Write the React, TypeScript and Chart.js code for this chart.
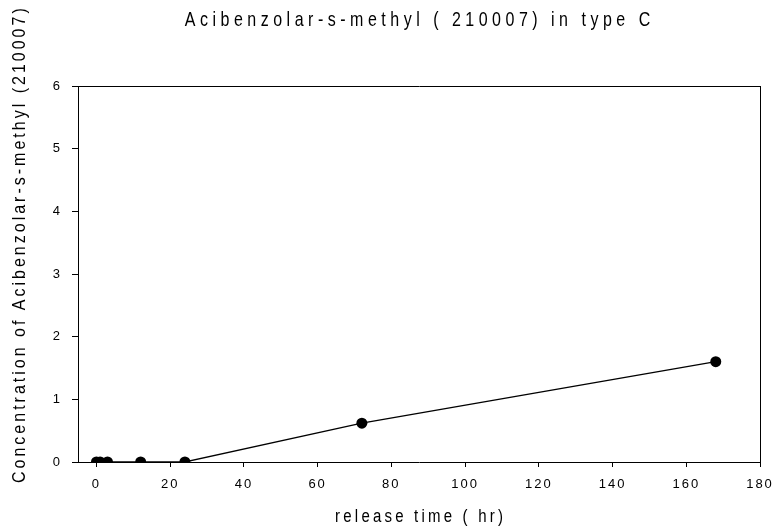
import { useEffect, useRef } from 'react';
import { Chart, registerables } from 'chart.js';

Chart.register(...registerables);

const chartTitle = 'Acibenzolar-s-methyl ( 210007) in type C';
const xTitle = 'release time ( hr)';
const yTitle = 'Concentration of Acibenzolar-s-methyl (210007)';

const releaseTimes = [0, 1, 3, 12, 24, 72, 168];
const concentrations = [0, 0, 0, 0, 0, 0.62, 1.6];

const xTickValues = [0, 20, 40, 60, 80, 100, 120, 140, 160, 180];
const yTickValues = [0, 1, 2, 3, 4, 5, 6];

const FONT = '"Liberation Sans", Arial, sans-serif';

const spacingPlugin = {
  id: 'letterSpacing',
  beforeDraw(chart: any) {
    (chart.ctx as any).letterSpacing = '2px';
  },
};

function drawSpaced(
  ctx: any,
  text: string,
  size: number,
  spacing: number,
  stretch: number,
  x: number,
  y: number,
  rotate: boolean,
  anchor: 'center' | 'start'
) {
  ctx.save();
  ctx.font = `${size}px ${FONT}`;
  ctx.letterSpacing = `${spacing}px`;
  ctx.textAlign = 'left';
  ctx.textBaseline = 'alphabetic';
  const w = ctx.measureText(text).width - spacing;
  ctx.translate(x, y);
  if (rotate) ctx.rotate(-Math.PI / 2);
  ctx.scale(1, stretch);
  ctx.fillText(text, anchor === 'center' ? -w / 2 : 0, 0);
  ctx.restore();
}

const titlesPlugin = {
  id: 'customTitles',
  afterDraw(chart: any) {
    const { ctx, chartArea } = chart;
    const cx = (chartArea.left + chartArea.right) / 2;
    ctx.save();
    ctx.fillStyle = '#000';
    drawSpaced(ctx, chartTitle, 16, 4.5, 1.22, cx - 1.5, chartArea.top - 60.5, false, 'center');
    drawSpaced(ctx, xTitle, 15, 3.2, 1.2, cx, chartArea.bottom + 60, false, 'center');
    drawSpaced(ctx, yTitle, 16, 3.0, 1.12, 25, chartArea.bottom + 21, true, 'start');
    ctx.restore();
  },
};

export default function App() {
  const canvasRef = useRef<HTMLCanvasElement | null>(null);

  useEffect(() => {
    if (!canvasRef.current) return;
    Chart.defaults.font.family = FONT;
    const chart = new Chart(canvasRef.current, {
      type: 'line',
      data: {
        datasets: [
          {
            data: releaseTimes.map((t, i) => ({ x: t, y: concentrations[i] })),
            borderColor: '#000',
            backgroundColor: '#000',
            borderWidth: 1.3,
            pointRadius: 5.5,
            pointBackgroundColor: '#000',
            pointBorderColor: '#000',
            pointBorderWidth: 0,
            tension: 0,
            fill: false,
          },
        ],
      },
      options: {
        animation: false,
        responsive: true,
        maintainAspectRatio: false,
        layout: { padding: 0 },
        plugins: {
          legend: { display: false },
          tooltip: { enabled: false },
          title: { display: false },
        },
        scales: {
          x: {
            type: 'linear',
            position: 'bottom',
            min: -5,
            max: 180,
            afterBuildTicks: (s: any) => {
              s.ticks = xTickValues.map((v) => ({ value: v }));
            },
            afterFit: (s: any) => {
              s.height = 67;
              s.paddingLeft = 0;
              s.paddingRight = 0;
            },
            grid: {
              display: true,
              drawOnChartArea: false,
              drawTicks: true,
              tickLength: 5,
              color: '#000',
              lineWidth: 1,
            },
            border: { display: true, color: '#000', width: 1 },
            ticks: {
              color: '#000',
              font: { size: 13 },
              padding: 10,
              maxRotation: 0,
              autoSkip: false,
            },
          },
          y: {
            type: 'linear',
            position: 'left',
            min: 0,
            max: 6,
            afterBuildTicks: (s: any) => {
              s.ticks = yTickValues.map((v) => ({ value: v }));
            },
            afterFit: (s: any) => {
              s.width = 78;
              s.paddingTop = 0;
              s.paddingBottom = 0;
            },
            grid: {
              display: true,
              drawOnChartArea: false,
              drawTicks: true,
              tickLength: 6,
              color: '#000',
              lineWidth: 1,
            },
            border: { display: true, color: '#000', width: 1 },
            ticks: {
              color: '#000',
              font: { size: 13 },
              padding: 10,
            },
          },
          xTop: {
            type: 'linear',
            position: 'top',
            min: -5,
            max: 180,
            afterFit: (s: any) => {
              s.height = 86;
              s.paddingLeft = 0;
              s.paddingRight = 0;
            },
            grid: { display: true, drawOnChartArea: false, drawTicks: false, color: '#000' },
            border: { display: true, color: '#000', width: 1 },
            ticks: { display: false },
          },
          yRight: {
            type: 'linear',
            position: 'right',
            min: 0,
            max: 6,
            afterFit: (s: any) => {
              s.width = 12;
              s.paddingTop = 0;
              s.paddingBottom = 0;
            },
            grid: { display: true, drawOnChartArea: false, drawTicks: false, color: '#000' },
            border: { display: true, color: '#000', width: 1 },
            ticks: { display: false },
          },
        },
      },
      plugins: [spacingPlugin, titlesPlugin],
    } as any);
    return () => chart.destroy();
  }, []);

  return (
    <div style={{ position: 'absolute', left: 0, top: 0, width: 772, height: 529 }}>
      <canvas ref={canvasRef} />
    </div>
  );
}
